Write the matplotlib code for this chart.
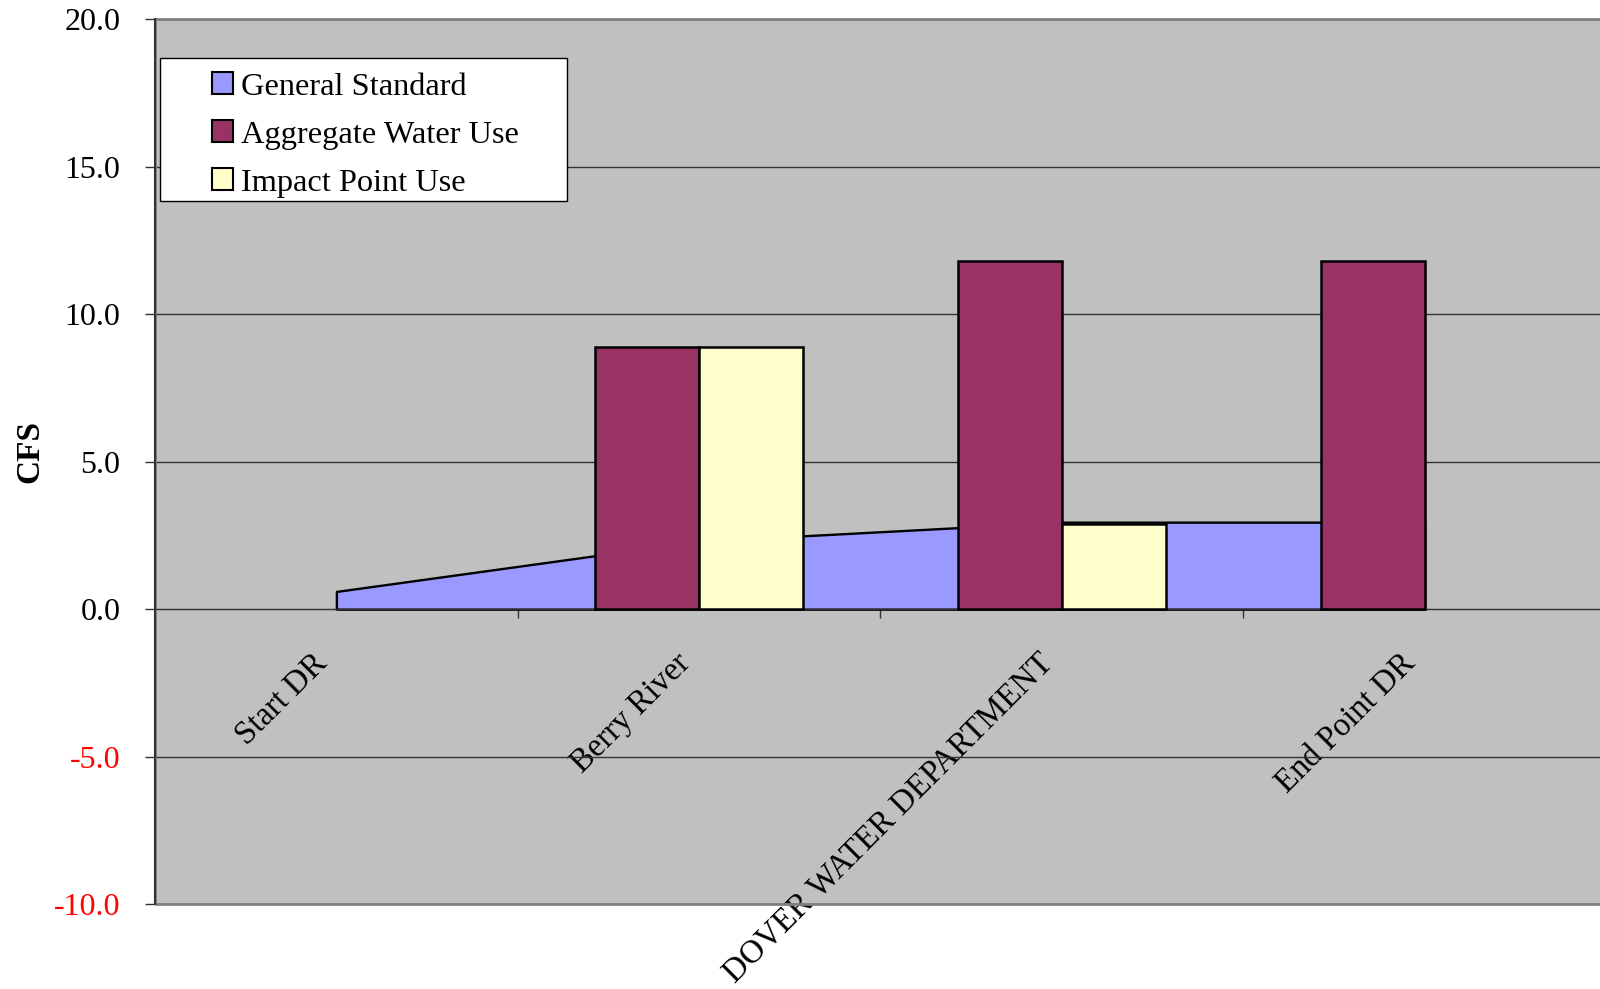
import matplotlib.pyplot as plt
from matplotlib.patches import Patch, Rectangle
from matplotlib.transforms import ScaledTranslation

categories = ["Start DR", "Berry River", "DOVER WATER DEPARTMENT", "End Point DR"]
general_standard = [0.6, 2.3, 2.95, 2.95]
aggregate_water_use = [0.0, 8.9, 11.8, 11.8]
impact_point_use = [0.0, 8.9, 2.9, 0.0]
y_ticks = [-10, -5, 0, 5, 10, 15, 20]
series_names = ["General Standard", "Aggregate Water Use", "Impact Point Use"]

c_area = "#9999FF"
c_agg = "#993366"
c_imp = "#FFFFCC"

plt.rcParams['font.family'] = ['Liberation Serif', 'DejaVu Serif']

fig = plt.figure(figsize=(16, 9.89), dpi=100)
# plot area runs past the right edge of the picture, as in the original
ax = fig.add_axes([155 / 1600, 85 / 989, 1451 / 1600, 884.6 / 989])
ax.set_facecolor("#C0C0C0")

x = list(range(len(categories)))
w = 1 / 3.5  # excel gap width 150

ax.fill_between(x, 0, general_standard, facecolor=c_area, edgecolor="black",
                linewidth=1.7, zorder=2)
ax.bar([i - w / 2 for i in x], aggregate_water_use, width=w, color=c_agg,
       edgecolor="black", linewidth=[1.8 if v else 0 for v in aggregate_water_use], zorder=3)
ax.bar([i + w / 2 for i in x], impact_point_use, width=w, color=c_imp,
       edgecolor="black", linewidth=[1.8 if v else 0 for v in impact_point_use], zorder=3)

ax.set_xlim(-0.5, 3.5)
ax.set_ylim(-10, 20)

# y axis
ax.set_yticks(y_ticks)
ax.set_yticklabels([f"{v:.1f}" for v in y_ticks], fontsize=23)
for lbl, v in zip(ax.get_yticklabels(), y_ticks):
    if v < 0:
        lbl.set_color("red")
ax.tick_params(axis="y", length=7, width=1, color="#333333", pad=18)
ax.yaxis.grid(True, color="#333333", linewidth=1)
ax.set_axisbelow(True)
ax.set_ylabel("CFS", fontsize=24, fontweight="bold")
ax.yaxis.set_label_coords(-0.0758, 0.511)

# category axis crosses at zero
ax.spines["bottom"].set_position(("data", 0))
ax.spines["bottom"].set_color("#333333")
ax.set_xticks([0.5, 1.5, 2.5])
ax.set_xticklabels([])
ax.tick_params(axis="x", which="major", length=6.5, width=1, color="#333333")
ax.set_xticks(x, minor=True)
ax.set_xticklabels(categories, minor=True, rotation=45, ha="right", va="baseline",
                   rotation_mode="anchor", fontsize=23.5)
ax.tick_params(axis="x", which="minor", length=0, pad=40)
nudge = ScaledTranslation(-8 / 100, 0, fig.dpi_scale_trans)
for lbl in ax.get_xticklabels(minor=True):
    lbl.set_transform(lbl.get_transform() + nudge)

for s in ("top", "right"):
    ax.spines[s].set_visible(False)
ax.spines["left"].set_color("#333333")
ax.spines["left"].set_linewidth(1.5)
ax.add_patch(Rectangle((0, 0), 1, 1, transform=ax.transAxes, fill=False,
                       edgecolor="#808080", linewidth=2, clip_on=False, zorder=1))

# legend box
ax.add_patch(Rectangle((0.00345, 0.7947), 0.2805, 0.1617, transform=ax.transAxes,
                       facecolor="white", edgecolor="black", linewidth=1, zorder=4))
handles = [Patch(facecolor=c, edgecolor="black", linewidth=1.5) for c in (c_area, c_agg, c_imp)]
leg = ax.legend(handles, series_names, loc="upper left", bbox_to_anchor=(0.039, 0.94),
                frameon=False, borderpad=0, borderaxespad=0, fontsize=23.3,
                handlelength=0.65, handleheight=0.65, handletextpad=0.25, labelspacing=0.58)
leg.set_zorder(5)

fig.savefig("out.png", dpi=100)
